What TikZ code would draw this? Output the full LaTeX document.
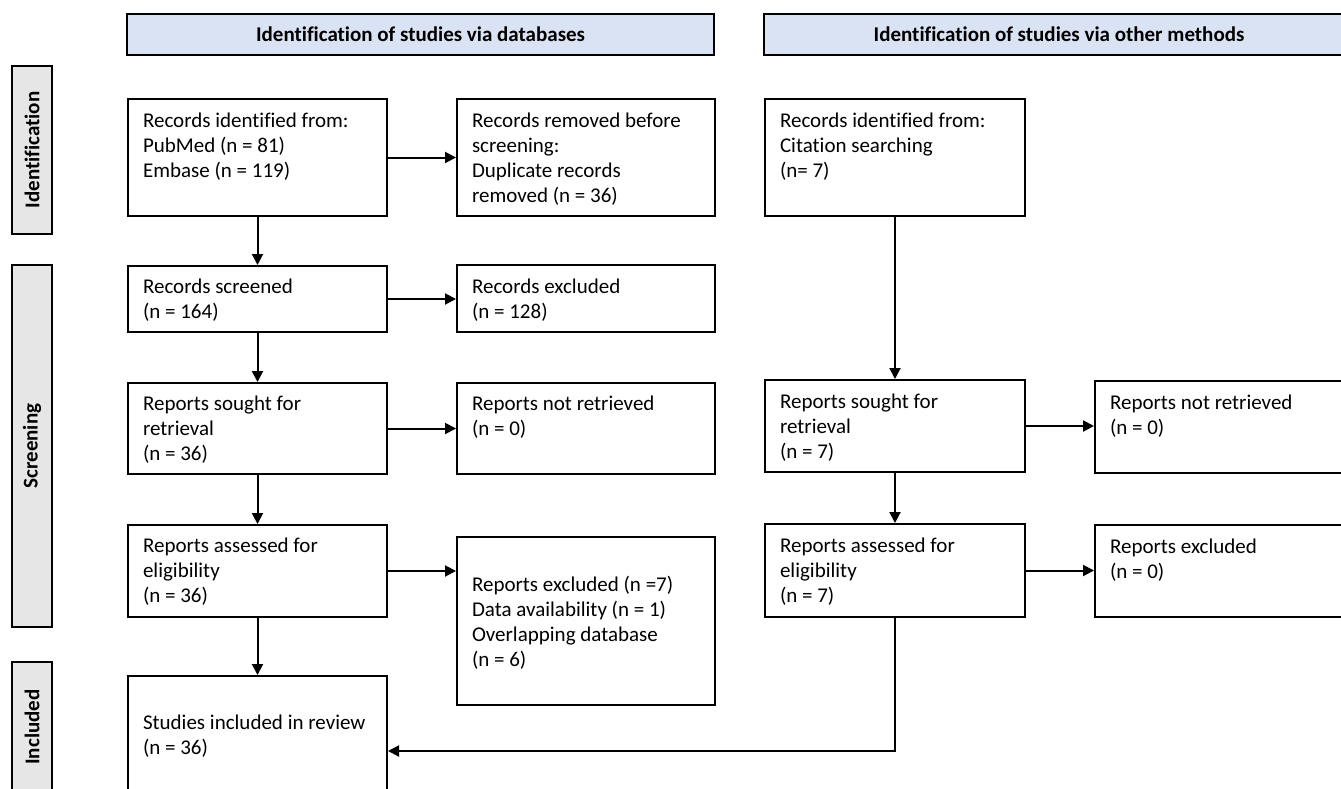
\documentclass[tikz,border=0pt]{standalone}
\usepackage{fontspec}
\setmainfont{Carlito}[Ligatures=NoCommon]
\usetikzlibrary{arrows.meta}
\definecolor{hdrblue}{HTML}{DAE3F3}
\definecolor{sidegray}{HTML}{E7E6E6}
\newcommand\bxt[4]{\parbox[c][#2pt][t]{\dimexpr#1pt-30pt\relax}{\raggedright\vspace*{#3pt}\strut #4}}
\tikzset{
  box/.style={draw=black, line width=2pt, anchor=north west, inner xsep=15pt, inner ysep=0pt, font=\fontsize{21}{25}\selectfont},
  hdr/.style={draw=black, line width=2pt, fill=hdrblue, minimum height=41pt, inner sep=0pt, font=\fontsize{21}{25}\selectfont\bfseries},
  side/.style={draw=black, line width=2pt, fill=sidegray, rotate=90, minimum height=40pt, inner sep=0pt, font=\fontsize{21}{25}\selectfont\bfseries},
  arr/.style={line width=2pt, -{Triangle[length=11pt,width=11pt]}}
}
\begin{document}
\begin{tikzpicture}[x=1pt,y=-1pt]
\useasboundingbox (0,0) rectangle (1341,788);
\clip (0,0) rectangle (1341,788);
% headers
\node[hdr, minimum width=587pt] (h1) at (420.5,34.5) {Identification of studies via databases};
\node[hdr, minimum width=590pt] (h2) at (1059,34.5) {Identification of studies via other methods};
% side labels
\node[side, minimum width=168pt] (sid) at (32,150) {Identification};
\node[side, minimum width=362pt] (sscr) at (32,446) {Screening};
\node[side, minimum width=130pt] (sinc) at (32,727) {Included};
% left column
\node[box] (a) at (127,98) {\bxt{259}{117}{10.5}{Records identified from:\\PubMed (n = 81)\\Embase (n = 119)}};
\node[box] (b) at (456,98) {\bxt{258}{117}{10.5}{Records removed before\\screening:\\Duplicate records\\removed (n = 36)}};
\node[box] (scr) at (127,265) {\bxt{259}{66}{10}{Records screened\\(n = 164)}};
\node[box] (exc) at (456,264) {\bxt{258}{67}{10.5}{Records excluded\\(n = 128)}};
\node[box] (sou) at (127,382) {\bxt{259}{91}{9.5}{Reports sought for\\retrieval\\(n = 36)}};
\node[box] (nr) at (456,382) {\bxt{258}{91}{9.5}{Reports not retrieved\\(n = 0)}};
\node[box] (ass) at (127,524) {\bxt{259}{92}{9.5}{Reports assessed for\\eligibility\\(n = 36)}};
\node[box] (ex7) at (456,536) {\bxt{258}{168}{36.5}{Reports excluded (n =7)\\Data availability (n = 1)\\Overlapping database\\(n = 6)}};
\node[box] (inc) at (127,675) {\bxt{259}{130}{35.5}{Studies included in review\\(n = 36)}};
% right column
\node[box] (c) at (764,98) {\bxt{260}{117}{10.5}{Records identified from:\\Citation searching\\(n= 7)}};
\node[box] (sou2) at (764,379) {\bxt{260}{92}{10.5}{Reports sought for\\retrieval\\(n = 7)}};
\node[box] (nr2) at (1094,380) {\bxt{259}{92}{10.5}{Reports not retrieved\\(n = 0)}};
\node[box] (ass2) at (764,523) {\bxt{260}{93}{10.5}{Reports assessed for\\eligibility\\(n = 7)}};
\node[box] (ex2) at (1094,524) {\bxt{259}{92}{10.5}{Reports excluded\\(n = 0)}};
% connectors
\draw[arr] (a.east) -- (b.west);
\draw[arr] (a.south) -- (scr.north);
\draw[arr] (scr.east) -- (scr.east -| exc.west);
\draw[arr] (scr.south) -- (sou.north);
\draw[arr] (sou.east) -- (sou.east -| nr.west);
\draw[arr] (sou.south) -- (ass.north);
\draw[arr] (ass.east) -- (ass.east -| ex7.west);
\draw[arr] (ass.south) -- (inc.north);
\draw[arr] (c.south) -- (c.south |- sou2.north);
\draw[arr] (sou2.east) -- (sou2.east -| nr2.west);
\draw[arr] (sou2.south) -- (ass2.north);
\draw[arr] (ass2.east) -- (ass2.east -| ex2.west);
\coordinate (jn) at (894,751);
\draw[arr] (ass2.south) -- (ass2.south |- jn) -- (jn -| inc.east);
\end{tikzpicture}
\end{document}
